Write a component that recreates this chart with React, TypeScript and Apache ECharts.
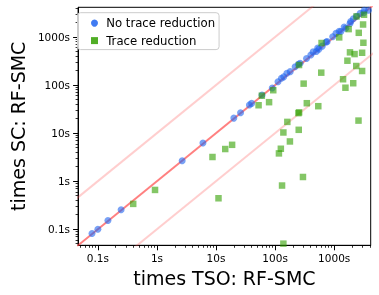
import React, { useEffect, useRef } from 'react';
import * as echarts from 'echarts';

// [TSO time (s), SC time (s)]
const noReduction: [number, number][] = [
  [0.0795, 0.081], [0.1, 0.1], [0.148, 0.151], [0.247, 0.253], [2.67, 2.66], [6.0, 6.2],
  [20, 20.5], [26, 26.5], [36.7, 38.6], [40, 41.5], [60, 62], [89.5, 87], [112, 117],
  [128, 138], [140, 148], [158, 176], [180, 190], [218, 240], [248, 272], [265, 283],
  [340, 358], [402, 421], [440, 490], [499, 500], [525, 590], [553, 560], [630, 646],
  [731, 790], [760, 800], [944, 1010], [1072, 1190], [1216, 1320], [1297, 1300],
  [1472, 1620], [1570, 1524], [1850, 1914], [1900, 2100], [2105, 2400], [2390, 2700],
  [2760, 3100], [3160, 3200], [3230, 3600], [3800, 3600],
];

const traceReduction: [number, number][] = [
  [0.396, 0.336], [0.927, 0.656], [8.7, 3.18], [14.3, 4.66], [18.7, 5.7], [11, 0.44],
  [52.5, 38], [79, 44], [59.6, 60], [93, 78], [116, 3.78], [125, 4.72], [131, 0.81],
  [138, 0.05], [296, 1.22], [178, 6.7], [138, 10.3], [251, 11.7], [161, 17.1], [248, 26],
  [255, 27], [344, 41.9], [538, 36.3], [304, 107], [254, 261], [604, 181], [611, 750],
  [1216, 981], [1413, 132], [1550, 88], [2100, 109], [2580, 18.2], [1675, 321], [1850, 479],
  [2213, 441], [2970, 470], [2361, 249], [2970, 196], [1757, 1459], [2607, 1222],
  [3120, 759], [3083, 1820], [2388, 2680], [3200, 2900],
];

const refFactors = [1, 10, 0.1];
const lineEnds = [0.01, 10000];
const majorTicks = [0.1, 1, 10, 100, 1000];
const majorLabels = ['0.1s', '1s', '10s', '100s', '1000s'];
const minorMultiples = [2, 3, 4, 5, 6, 7, 8, 9];
const decades = [0.01, 0.1, 1, 10, 100, 1000];
const axisMin = 0.0462;
const axisMax = 4150;

const FONT = 'DejaVu Sans';
const lg = (v: number) => Math.log10(v);

export default function App() {
  const ref = useRef<HTMLDivElement>(null);
  useEffect(() => {
    if (!ref.current) return;
    const chart = echarts.init(ref.current, undefined, { renderer: 'svg' });
    const minor: number[] = [];
    decades.forEach((d) => minorMultiples.forEach((m) => {
      const v = d * m;
      if (v > axisMin && v < axisMax) minor.push(lg(v));
    }));
    const major = majorTicks.map(lg);
    const fmt = (v: number) => {
      let best = 0;
      major.forEach((m, i) => { if (Math.abs(m - v) < Math.abs(major[best] - v)) best = i; });
      return majorLabels[best];
    };
    const mainAxis = (name: string, isX: boolean) => ({
      type: 'value',
      min: lg(axisMin),
      max: lg(axisMax),
      name,
      nameLocation: 'middle',
      nameGap: isX ? 20 : 44,
      nameTextStyle: { fontSize: 19, color: '#000', fontFamily: FONT },
      axisLine: { show: true, onZero: false, lineStyle: { color: '#000', width: 1 } },
      axisTick: { show: true, customValues: major, length: 5, lineStyle: { color: '#000', width: 1 } },
      axisLabel: { customValues: major, formatter: fmt, margin: isX ? 7 : 8, fontSize: 10.5, color: '#000', fontFamily: FONT },
      splitLine: { show: false },
    });
    const minorAxis = () => ({
      type: 'value',
      min: lg(axisMin),
      max: lg(axisMax),
      axisLine: { show: false, onZero: false },
      axisTick: { show: true, customValues: minor, length: 2.5, lineStyle: { color: '#000', width: 0.8 } },
      axisLabel: { show: false },
      splitLine: { show: false },
    });
    const lineSeries = refFactors.map((k) => ({
      type: 'line',
      name: 'ref' + k,
      data: lineEnds.map((x) => [lg(x), lg(k * x)]),
      symbol: 'none',
      silent: true,
      clip: true,
      z: 1,
      lineStyle: { color: k === 1 ? 'rgba(255,60,60,0.65)' : 'rgba(255,80,80,0.28)', width: 2 },
    }));
    chart.setOption({
      animation: false,
      grid: { left: 71.7, right: 8.3, top: 7.3, bottom: 49.7, show: true, borderColor: '#000', borderWidth: 1, backgroundColor: 'transparent' },
      xAxis: [mainAxis('times TSO: RF-SMC', true), { ...minorAxis(), position: 'bottom' }],
      yAxis: [mainAxis('times SC: RF-SMC', false), { ...minorAxis(), position: 'left' }],
      legend: {
        orient: 'vertical',
        left: 77.5,
        top: 12.7,
        itemWidth: 7,
        itemHeight: 7,
        itemGap: 3.5,
        padding: [3.4, 4, 2, 13.5],
        backgroundColor: 'rgba(255,255,255,0.8)',
        borderColor: '#cccccc',
        borderWidth: 1,
        borderRadius: 3,
        textStyle: { fontSize: 11.7, lineHeight: 14, color: '#000', fontFamily: FONT, padding: [0, 0, 0, 3.2] },
        data: [
          { name: 'No trace reduction', icon: 'circle', itemStyle: { opacity: 0.85 } },
          { name: 'Trace reduction', icon: 'rect', itemStyle: { opacity: 0.85 } },
        ],
      },
      series: [
        ...lineSeries,
        {
          type: 'scatter',
          name: 'No trace reduction',
          symbol: 'circle',
          symbolSize: 7,
          z: 3,
          data: noReduction.map(([x, y]) => [lg(x), lg(y)]),
          itemStyle: { color: 'rgb(30,100,240)', opacity: 0.6 },
        },
        {
          type: 'scatter',
          name: 'Trace reduction',
          symbol: 'rect',
          symbolSize: 6.5,
          z: 4,
          data: traceReduction.map(([x, y]) => [lg(x), lg(y)]),
          itemStyle: { color: 'rgb(50,160,0)', opacity: 0.6 },
        },
      ],
    });
    return () => chart.dispose();
  }, []);
  return <div ref={ref} style={{ position: 'fixed', left: 0, top: 0, width: 379, height: 295 }} />;
}
